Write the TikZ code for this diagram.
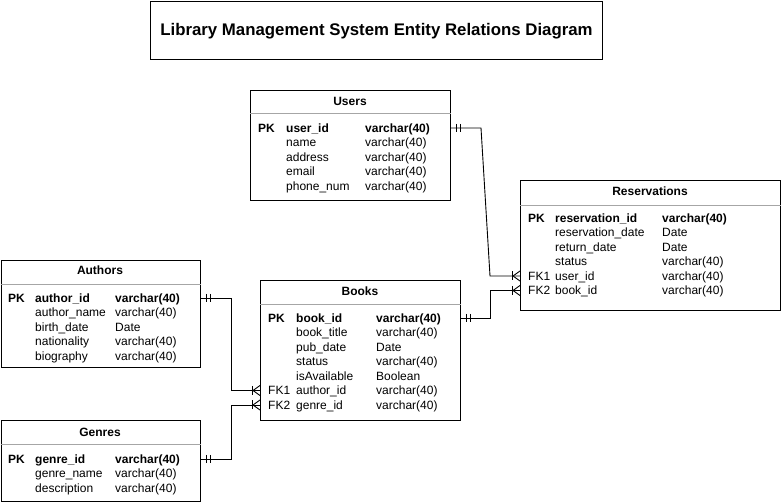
\documentclass[tikz,border=0pt]{standalone}
\usepackage{fontspec}
\setmainfont{Liberation Sans}
\usetikzlibrary{calc}
\newcommand{\erow}[5]{%
  \coordinate (#1) at (\cB,#2);
  \node[cell] (#1k) at (\cA,#2+4.5) {#3};
  \node[cell] (#1n) at (\cB,#2+4.5) {#4};
  \node[cell] (#1t) at (\cC,#2+4.5) {#5};}
\newcommand{\erOne}[2]{%
  \draw[conn] ($(#1)+(#2*5pt,4pt)$) -- ($(#1)+(#2*5pt,-4pt)$);
  \draw[conn] ($(#1)+(#2*9pt,4pt)$) -- ($(#1)+(#2*9pt,-4pt)$);}
\newcommand{\erMany}[2]{%
  \draw[conn] ($(#1)+(#2*8pt,4.5pt)$) -- ($(#1)+(#2*8pt,-4.5pt)$);
  \draw[conn] ($(#1)+(0pt,5pt)$) -- ($(#1)+(#2*7pt,0pt)$) -- ($(#1)+(0pt,-5pt)$);}
\begin{document}
\begin{tikzpicture}[x=1pt,y=-1pt,
  cell/.style={anchor=base west, inner sep=0pt, font=\fontsize{12}{14}\selectfont},
  tbox/.style={draw=black, line width=1pt, anchor=north west, inner sep=0pt},
  hdr/.style={inner sep=0pt, font=\fontsize{12}{14}\selectfont\bfseries},
  sep/.style={draw=black!35, line width=1pt},
  conn/.style={draw=black, line width=0.9pt}]
\useasboundingbox (0,0) rectangle (782,502);
% title
\node[draw=black, line width=1pt, minimum width=452pt, minimum height=58pt, inner sep=0pt, anchor=north west, font=\fontsize{16.8}{20}\selectfont\bfseries] (title) at (150,1.5) {Library Management System Entity Relations Diagram};
% Users
\node[tbox, minimum width=200pt, minimum height=110pt] (users) at (250,90) {};
\node[hdr] (usersh) at (350,101) {Users};
\draw[sep] (users.west |- 0,114) -- (users.east |- 0,114);
\def\cA{258}\def\cB{286}\def\cC{365}
\erow{u1}{128}{\bfseries PK}{\bfseries user\_id}{\bfseries varchar(40)}
\erow{u2}{142.5}{}{name}{varchar(40)}
\erow{u3}{157}{}{address}{varchar(40)}
\erow{u4}{171.5}{}{email}{varchar(40)}
\erow{u5}{186}{}{phone\_num}{varchar(40)}
% Reservations
\node[tbox, minimum width=260pt, minimum height=130pt] (res) at (520,180) {};
\node[hdr] (resh) at (650,191) {Reservations};
\draw[sep] (res.west |- 0,206) -- (res.east |- 0,206);
\def\cA{528}\def\cB{555}\def\cC{662}
\erow{r1}{218}{\bfseries PK}{\bfseries reservation\_id}{\bfseries varchar(40)}
\erow{r2}{232.5}{}{reservation\_date}{Date}
\erow{r3}{247}{}{return\_date}{Date}
\erow{r4}{261.5}{}{status}{varchar(40)}
\erow{r5}{276}{FK1}{user\_id}{varchar(40)}
\erow{r6}{290.5}{FK2}{book\_id}{varchar(40)}
% Books
\node[tbox, minimum width=200pt, minimum height=140pt] (books) at (260,280) {};
\node[hdr] (booksh) at (360,291) {Books};
\draw[sep] (books.west |- 0,305) -- (books.east |- 0,305);
\def\cA{268}\def\cB{296}\def\cC{376}
\erow{b1}{318}{\bfseries PK}{\bfseries book\_id}{\bfseries varchar(40)}
\erow{b2}{332.5}{}{book\_title}{varchar(40)}
\erow{b3}{347}{}{pub\_date}{Date}
\erow{b4}{361.5}{}{status}{varchar(40)}
\erow{b5}{376}{}{isAvailable}{Boolean}
\erow{b6}{390.5}{FK1}{author\_id}{varchar(40)}
\erow{b7}{405}{FK2}{genre\_id}{varchar(40)}
% Authors
\node[tbox, minimum width=199.5pt, minimum height=107pt] (authors) at (0.5,260) {};
\node[hdr] (authorsh) at (100,270) {Authors};
\draw[sep] (authors.west |- 0,285) -- (authors.east |- 0,285);
\def\cA{8}\def\cB{35}\def\cC{115}
\erow{a1}{298}{\bfseries PK}{\bfseries author\_id}{\bfseries varchar(40)}
\erow{a2}{312.5}{}{author\_name}{varchar(40)}
\erow{a3}{327}{}{birth\_date}{Date}
\erow{a4}{341.5}{}{nationality}{varchar(40)}
\erow{a5}{356}{}{biography}{varchar(40)}
% Genres
\node[tbox, minimum width=199.5pt, minimum height=80.5pt] (genres) at (0.5,420) {};
\node[hdr] (genresh) at (100,432) {Genres};
\draw[sep] (genres.west |- 0,445) -- (genres.east |- 0,445);
\def\cA{8}\def\cB{35}\def\cC{115}
\erow{g1}{459}{\bfseries PK}{\bfseries genre\_id}{\bfseries varchar(40)}
\erow{g2}{473.5}{}{genre\_name}{varchar(40)}
\erow{g3}{488}{}{description}{varchar(40)}
% connectors
\coordinate (c1s) at (users.east |- u1);
\coordinate (c1e) at (res.west |- r5);
\draw[conn] (c1s) -- (481,128) -- (490,276) -- (c1e);
\erOne{c1s}{1}\erMany{c1e}{-1}
\coordinate (c2s) at (books.east |- b1);
\coordinate (c2e) at (res.west |- r6);
\draw[conn] (c2s) -| (490,290.5) -- (c2e);
\erOne{c2s}{1}\erMany{c2e}{-1}
\coordinate (c3s) at (authors.east |- a1);
\coordinate (c3e) at (books.west |- b6);
\draw[conn] (c3s) -| (231,390.5) -- (c3e);
\erOne{c3s}{1}\erMany{c3e}{-1}
\coordinate (c4s) at (genres.east |- g1);
\coordinate (c4e) at (books.west |- b7);
\draw[conn] (c4s) -| (231,405) -- (c4e);
\erOne{c4s}{1}\erMany{c4e}{-1}
\end{tikzpicture}
\end{document}
